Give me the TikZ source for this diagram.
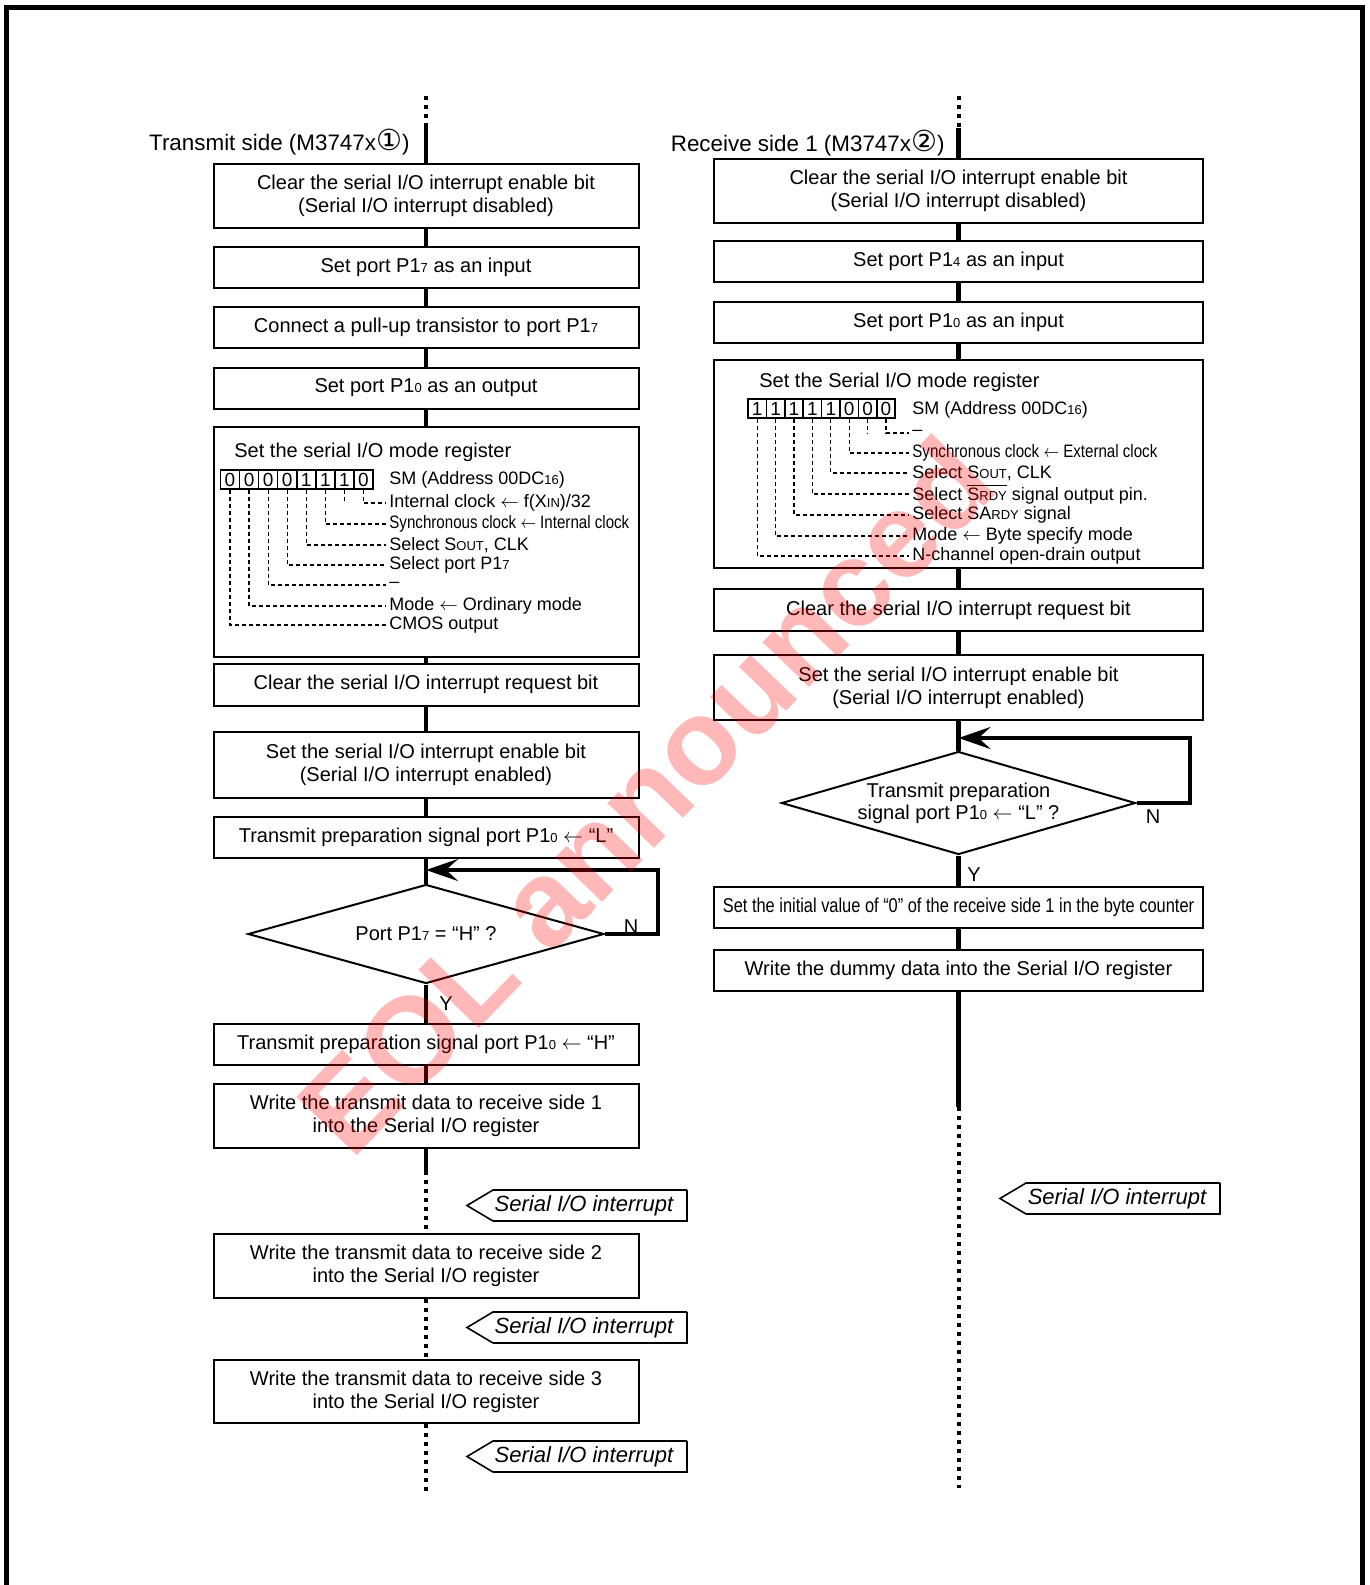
\documentclass[tikz,border=0pt]{standalone}
\usepackage{fontspec}
\setmainfont{Liberation Sans}
\newfontfamily\symfont{DejaVu Sans}
\usepackage{graphicx}
\usetikzlibrary{shapes.geometric,arrows.meta}

\newcommand{\lo}[1]{{\fontsize{6.5}{7}\selectfont #1}}
\newcommand{\circd}[1]{{\fontsize{14.5}{12}\symfont #1}}

\tikzset{
  proc/.style={draw,line width=1pt,minimum width=212.5pt,minimum height=20.5pt,inner sep=0pt,align=center,font=\fontsize{10}{11.5}\selectfont},
  rproc/.style={proc,minimum width=244.5pt},
  dec/.style={draw,diamond,aspect=3.5,line width=1pt,inner sep=0pt,align=center,font=\fontsize{10}{11}\selectfont},
  flow/.style={line width=2.2pt},
  dots/.style={line width=2pt,dash pattern=on 2pt off 2.5pt},
  back/.style={flow,-{Stealth[length=16pt,width=11pt,inset=6pt]}},
  leader/.style={line width=0.6pt,dash pattern=on 2pt off 1.5pt},
  cell/.style={draw,line width=0.8pt,minimum height=9.5pt,inner sep=0pt,font=\fontsize{9.5}{10}\selectfont},
  lbl/.style={anchor=west,inner sep=1.5pt,font=\fontsize{9}{10}\selectfont},
  head/.style={anchor=west,inner sep=0pt,font=\fontsize{10}{11}\selectfont},
  side/.style={anchor=east,inner sep=0pt,font=\fontsize{11.2}{12}\selectfont},
  tag/.style={inner sep=0pt,font=\fontsize{10}{11}\selectfont},
  flag/.style={inner sep=0pt,font=\fontsize{11}{12}\selectfont\itshape}
}

\begin{document}
\begin{tikzpicture}[x=0.5pt,y=-0.5pt]
\useasboundingbox (0,0) rectangle (1370,1585);
\draw[line width=2.5pt] (6.5,1585) -- (6.5,7.5) -- (1362.5,7.5) -- (1362.5,1585);

% transmit side
\node[side] (tside) at (410,142) {Transmit side (M3747x\circd{①})};
\node[proc,minimum height=32pt] (t1) at (426,196) {Clear the serial I/O interrupt enable bit\\(Serial I/O interrupt disabled)};
\node[proc] (t2) at (426,267) {Set port P1\lo{7} as an input};
\node[proc] (t3) at (426,327.5) {Connect a pull-up transistor to port P1\lo{7}};
\node[proc] (t4) at (426,388) {Set port P1\lo{0} as an output};
\node[proc,minimum height=115pt] (t5) at (426,542) {};
\node[proc,minimum height=21pt] (t6) at (426,684.5) {Clear the serial I/O interrupt request bit};
\node[proc,minimum height=33pt] (t7) at (426,765) {Set the serial I/O interrupt enable bit\\(Serial I/O interrupt enabled)};
\node[proc] (t8) at (426,837.5) {Transmit preparation signal port P1\lo{0} $\leftarrow$ “L”};
\node[dec,minimum width=178pt,minimum height=49.5pt] (t9) at (426,934) {Port P1\lo{7} = “H” ?};
\node[proc] (t10) at (426,1044) {Transmit preparation signal port P1\lo{0} $\leftarrow$ “H”};
\node[proc,minimum height=32pt] (t11) at (426,1116) {Write the transmit data to receive side 1\\into the Serial I/O register};
\node[proc,minimum height=32pt] (t12) at (426,1266) {Write the transmit data to receive side 2\\into the Serial I/O register};
\node[proc,minimum height=31.5pt] (t13) at (426,1391.5) {Write the transmit data to receive side 3\\into the Serial I/O register};

\coordinate (ttop) at (426,96);
\coordinate (tsolid) at (426,126);
\coordinate (tbreak) at (426,1171);
\coordinate (tend) at (426,1493);
\draw[dots] (ttop) -- (tsolid);
\draw[flow] (tsolid) -- (t1.north);
\foreach \a/\b in {t1/t2,t2/t3,t3/t4,t4/t5,t5/t6,t6/t7,t7/t8,t8/t9,t9/t10,t10/t11}
  \draw[flow] (\a.south) -- (\b.north);
\draw[flow] (t11.south) -- (tbreak);
\draw[dots] (tbreak) -- (t12.north);
\draw[dots] (t12.south) -- (t13.north);
\draw[dots] (t13.south) -- (tend);

% loop back
\coordinate (tloop) at (658,870);
\draw[back] (t9.east) -| (tloop) -- (tloop -| t9.north);
\node[tag] (tno) at (631,927) {N};
\node[tag] (tyes) at (446,1004) {Y};

% mode register 00001110
\node[head] (tmode) at (234,452) {Set the serial I/O mode register};
\foreach \d [count=\i] in {0,0,0,0,1,1,1,0}
  \node[cell,minimum width=9.53pt] (lc\i) at ({220.5+19.06*(\i-0.5)},479.5) {\d};
\node[lbl] (lsm) at (386,480) {SM (Address 00DC\lo{16})};
\foreach \j/\y/\t in {1/503/{Internal clock $\leftarrow$ f(X\lo{IN})/32},
    2/524/{\scalebox{0.84}[1]{Synchronous clock $\leftarrow$ Internal clock}},
    3/545/{Select S\lo{OUT}, CLK},
    4/565/{Select port P1\lo{7}},
    5/585/{–},
    6/606/{Mode $\leftarrow$ Ordinary mode},
    7/625/{CMOS output}}
  \node[lbl] (ll\j) at (386,\y) {\t};
\draw[leader] (lc8.south) |- (ll1.west);
\draw[leader] (lc7.south) -- (lc7.south |- ll1.west);
\foreach \c/\l in {6/2,5/3,4/4,3/5,2/6,1/7}
  \draw[leader] (lc\c.south) |- (ll\l.west);

% receive side 1
\node[side] (rside) at (945,143) {Receive side 1 (M3747x\circd{②})};
\node[rproc,minimum height=32pt] (r1) at (958.5,191) {Clear the serial I/O interrupt enable bit\\(Serial I/O interrupt disabled)};
\node[rproc] (r2) at (958.5,261.5) {Set port P1\lo{4} as an input};
\node[rproc] (r3) at (958.5,322.5) {Set port P1\lo{0} as an input};
\node[rproc,minimum height=104pt] (r4) at (958.5,464) {};
\node[rproc,minimum height=21pt] (r5) at (958.5,610) {Clear the serial I/O interrupt request bit};
\node[rproc,minimum height=32.5pt] (r6) at (958.5,687.5) {Set the serial I/O interrupt enable bit\\(Serial I/O interrupt enabled)};
\node[dec,minimum width=177pt,minimum height=51.5pt] (r7) at (958.5,803) {Transmit preparation\\signal port P1\lo{0} $\leftarrow$ “L” ?};
\node[rproc] (r8) at (958.5,907) {\scalebox{0.82}[1]{Set the initial value of “0” of the receive side 1 in the byte counter}};
\node[rproc] (r9) at (958.5,970.5) {Write the dummy data into the Serial I/O register};

\coordinate (rtop) at (958.5,96);
\coordinate (rsolid) at (958.5,128);
\coordinate (rbreak) at (958.5,1107);
\coordinate (rend) at (958.5,1488);
\draw[dots] (rtop) -- (rsolid);
\draw[flow] (rsolid) -- (r1.north);
\foreach \a/\b in {r1/r2,r2/r3,r3/r4,r4/r5,r5/r6,r6/r7,r7/r8,r8/r9}
  \draw[flow] (\a.south) -- (\b.north);
\draw[flow] (r9.south) -- (rbreak);
\draw[dots] (rbreak) -- (rend);

\coordinate (rloop) at (1190,738);
\draw[back] (r7.east) -| (rloop) -- (rloop -| r7.north);
\node[tag] (rno) at (1153,817) {N};
\node[tag] (ryes) at (974,875) {Y};

% mode register 11111000
\node[head] (rmode) at (759,382) {Set the Serial I/O mode register};
\foreach \d [count=\i] in {1,1,1,1,1,0,0,0}
  \node[cell,minimum width=9.2pt] (rc\i) at ({748+18.4*(\i-0.5)},408.5) {\d};
\node[lbl] (rsm) at (909,410) {SM (Address 00DC\lo{16})};
\foreach \j/\y/\t in {1/433/{–},
    2/453/{\scalebox{0.84}[1]{Synchronous clock $\leftarrow$ External clock}},
    3/473/{Select S\lo{OUT}, CLK},
    4/494/{Select $\overline{\hbox{S\lo{RDY}}}$ signal output pin.},
    5/515/{Select SA\lo{RDY} signal},
    6/536/{Mode $\leftarrow$ Byte specify mode},
    7/556/{N-channel open-drain output}}
  \node[lbl] (rl\j) at (909,\y) {\t};
\draw[leader] (rc8.south) |- (rl1.west);
\draw[leader] (rc7.south) -- (rc7.south |- rl1.west);
\foreach \c/\l in {6/2,5/3,4/4,3/5,2/6,1/7}
  \draw[leader] (rc\c.south) |- (rl\l.west);

% interrupt flags
\foreach \n/\x/\y in {f1/590/1205.5,f2/590/1327.5,f3/590/1456.5,f4/1123/1198.5} {
  \node[flag] (\n) at (\x-6,\y) {Serial I/O interrupt};
  \draw[line width=0.8pt] (\x+97,\y-15.5) -- (\x-97,\y-15.5) -- (\x-123,\y) -- (\x-97,\y+15.5);
  \draw[line width=1.4pt] (\x-97,\y+15.5) -- (\x+97,\y+15.5) -- (\x+97,\y-15.5);
}

% watermark
\node[rotate=46,text=red,opacity=0.28,inner sep=0pt,font=\fontsize{61}{62}\selectfont\bfseries] (wm) at (645,795) {EOL announced};
\end{tikzpicture}
\end{document}
